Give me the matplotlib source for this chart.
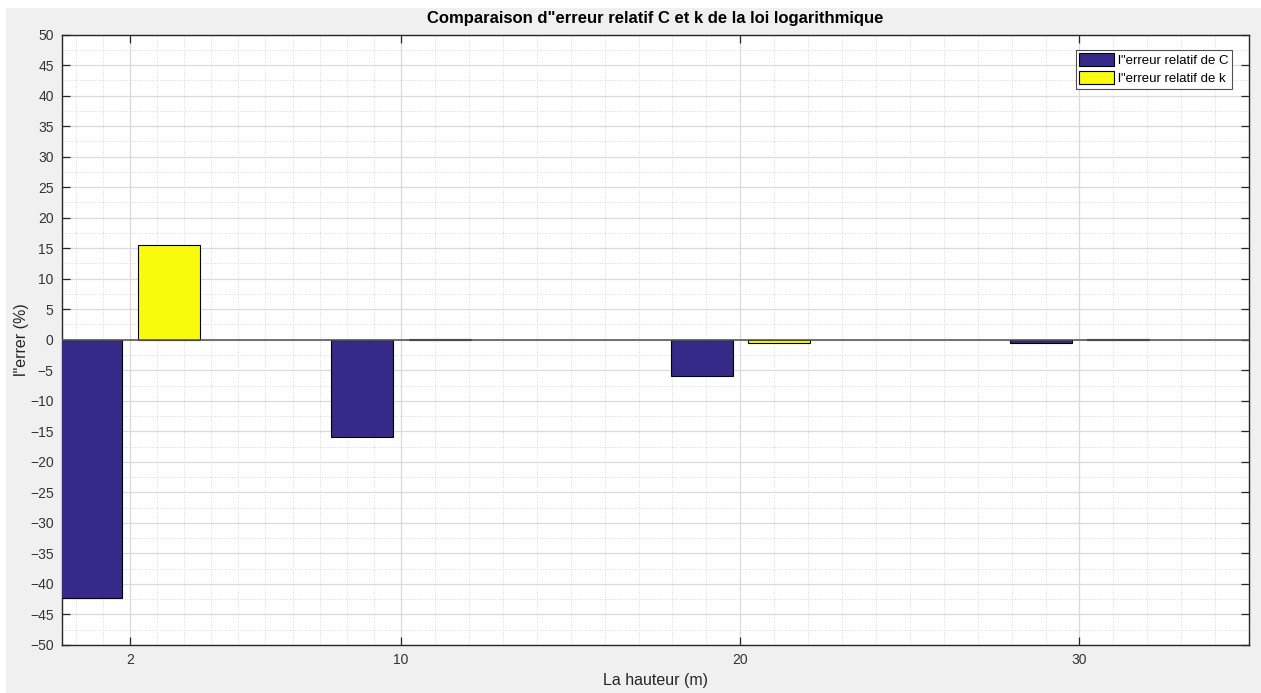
import matplotlib
matplotlib.use("Agg")
import matplotlib.pyplot as plt
from matplotlib.patches import Rectangle
from matplotlib.ticker import FixedLocator, MultipleLocator
import numpy as np

plt.rcParams['font.family'] = ['Liberation Sans', 'DejaVu Sans']

# Heights (m) and relative errors (%)
hauteurs = [2, 10, 20, 30]
erreur_C = [-42.3, -15.9, -6.0, -0.5]
erreur_k = [15.6, 0.05, -0.5, 0.2]
labels = ["l\"erreur relatif de C", "l\"erreur relatif de k"]
couleurs = ["#352A87", "#F9FB0E"]

# Grouped bar geometry (two series, spacing based on the closest heights)
spacing = np.min(np.diff(hauteurs))
group_w = min(0.8, 2 / (2 + 1.5)) * spacing
bar_w = group_w / 2 * 0.8
offsets = [-group_w / 4, group_w / 4]

fig = plt.figure(figsize=(12.61, 6.93), dpi=100, facecolor="white")
fig.patches.append(Rectangle((6 / 1261, 0), 1 - 6 / 1261, 1 - 8 / 693,
                             transform=fig.transFigure, facecolor="#F0F0F0",
                             edgecolor="none", zorder=-10))
ax = fig.add_axes([62 / 1261, 48 / 693, (1249 - 62) / 1261, (645 - 34.5) / 693])
ax.set_facecolor("white")

x = np.array(hauteurs, dtype=float)
for vals, off, col, lab in zip([erreur_C, erreur_k], offsets, couleurs, labels):
    ax.bar(x + off, vals, width=bar_w, color=col, edgecolor="black",
           linewidth=0.8, label=lab, zorder=3)

ax.axhline(0, color="#5a5a5a", linewidth=1.2, zorder=4)

ax.set_xlim(0, 35)
ax.set_ylim(-50, 50)
ax.set_xticks(hauteurs)
ax.set_xticklabels([str(h) for h in hauteurs])
ax.set_yticks(np.arange(-50, 51, 5))
ax.yaxis.set_minor_locator(MultipleLocator(2.5))
minor_x = list(np.arange(0.4, 10, 0.8)) + list(range(11, 20)) + list(range(21, 30)) + list(range(31, 35))
ax.xaxis.set_minor_locator(FixedLocator(minor_x))

spine_col = "#262626"
for s in ax.spines.values():
    s.set_color(spine_col)
    s.set_linewidth(1.0)

ax.tick_params(which="major", direction="in", length=6, width=0.9, color=spine_col,
               labelsize=10, labelcolor="#333333", top=True, right=True, pad=6)
ax.tick_params(which="minor", length=0, top=True, right=True)

ax.grid(which="major", color="#dadada", linewidth=0.9, linestyle="-", zorder=0)
ax.grid(which="minor", color="#cccccc", linewidth=0.6, linestyle=(0, (1, 2)), zorder=0)
ax.set_axisbelow(True)

ax.set_title("Comparaison d\"erreur relatif C et k de la loi logarithmique",
             fontsize=12, fontweight="bold", color="black", pad=8)
ax.set_xlabel("La hauteur (m)", fontsize=11.5, color="#262626", labelpad=4)
ax.set_ylabel("l\"errer (%)", fontsize=11.5, color="#262626", labelpad=1)

leg = ax.legend(loc="upper right", bbox_to_anchor=(0.9875, 0.979), fontsize=9.5,
                frameon=True, fancybox=False, borderpad=0.25, handlelength=2.7,
                handleheight=1.15, handletextpad=0.25, labelspacing=0.3,
                borderaxespad=0.2)
leg.get_frame().set_edgecolor("#262626")
leg.get_frame().set_linewidth(0.8)

fig.savefig("out.png", dpi=100, facecolor=fig.get_facecolor())
